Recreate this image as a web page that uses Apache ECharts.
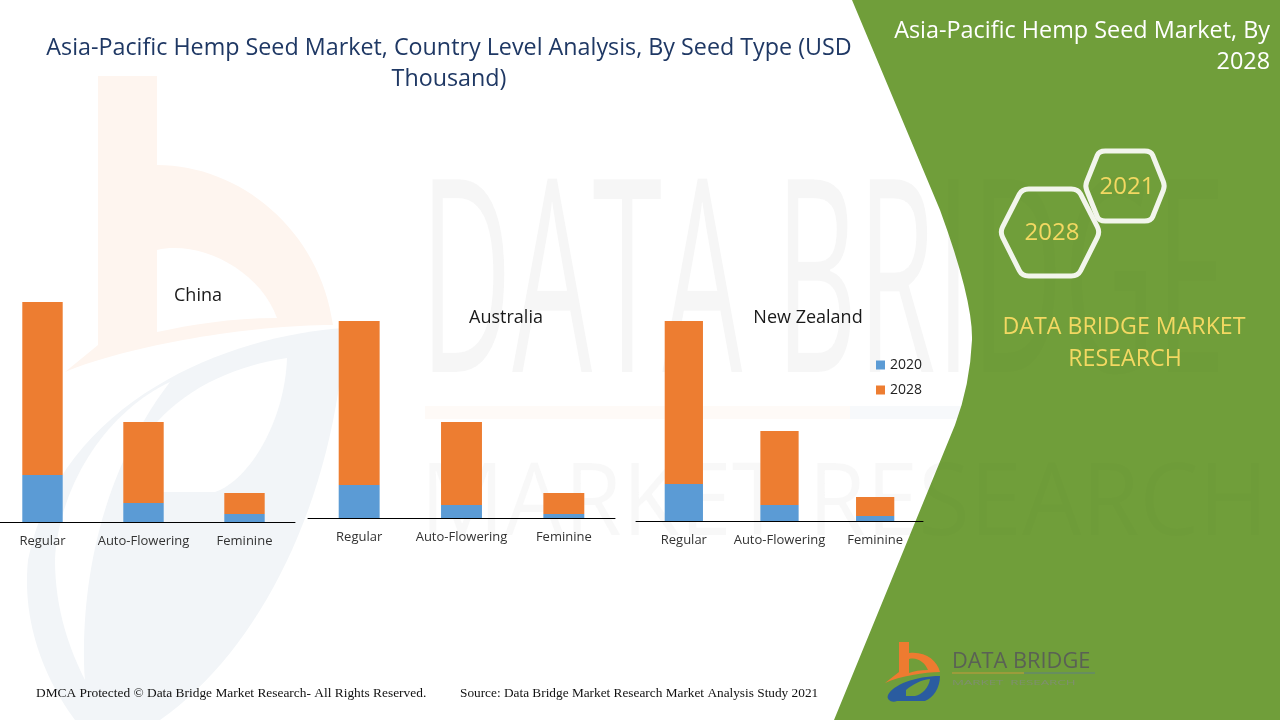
<!DOCTYPE html>
<html lang="en">
<head>
    <meta charset="UTF-8">
    <title>Asia-Pacific Hemp Seed Market</title>
    <style>
        html, body { margin: 0; padding: 0; background: #fff; overflow: hidden; }
        /* canvas starts 8px left of the page: the China axis begins off the edge and grid left can't go negative */
        #chart { position: absolute; left: -8px; top: 0; width: 1288px; height: 720px; }
    </style>
</head>
<body>
<div id="chart"></div>

<script src="https://cdn.jsdelivr.net/npm/echarts@6/dist/echarts.min.js"></script>
<script>
// values estimated off the bars (no value axis in the picture)
var seedTypes = ['Regular', 'Auto-Flowering', 'Feminine'];
var countries = ['China', 'Australia', 'New Zealand'];
var years = ['2020', '2028'];
var china2020 = [47, 19, 8];
var china2028 = [173, 81, 21];
var australia2020 = [33, 13, 4];
var australia2028 = [164, 83, 21];
var newZealand2020 = [37, 16, 5];
var newZealand2028 = [163, 74, 19];

var offX = 8;
var sans = '"Open Sans", "Noto Sans", sans-serif';
var serif = '"Liberation Serif", serif';
var yellow = '#F3D862';
var navy = '#1F3864';
var green = '#709E3A';

// one grid per country: left, width, baseline y
var layout = [
  {left: -8, width: 303, base: 522, titleX: 198, titleY: 287, v: [china2020, china2028]},
  {left: 308, width: 307, base: 518, titleX: 506, titleY: 309, v: [australia2020, australia2028]},
  {left: 636, width: 287, base: 521, titleX: 808, titleY: 309, v: [newZealand2020, newZealand2028]}
];
var plotH = 220;

var grids = [], xAxes = [], yAxes = [], series = [];
var titles = [{
  text: 'Asia-Pacific Hemp Seed Market, Country Level Analysis, By Seed Type (USD\nThousand)',
  left: 449 + offX, top: 33, textAlign: 'center', padding: 0,
  textStyle: {fontFamily: sans, fontSize: 23.3, fontWeight: 'normal', color: navy, lineHeight: 31}
}];

layout.forEach(function (g, i) {
  grids.push({left: g.left + offX, width: g.width, top: g.base - plotH, height: plotH});
  xAxes.push({
    type: 'category', gridIndex: i, data: seedTypes, z: 5,
    axisLine: {lineStyle: {color: '#000', width: 1}},
    axisTick: {show: false},
    axisLabel: {fontFamily: sans, fontSize: 13, color: '#333', margin: 13, interval: 0}
  });
  yAxes.push({type: 'value', gridIndex: i, min: 0, max: plotH, show: false});
  years.forEach(function (y, k) {
    series.push({
      name: y, type: 'bar', stack: countries[i], xAxisIndex: i, yAxisIndex: i,
      barWidth: '40%', data: g.v[k],
      itemStyle: {color: k === 0 ? '#5B9BD5' : '#ED7D31'}
    });
  });
  titles.push({
    text: countries[i], left: g.titleX + offX, top: g.titleY, textAlign: 'center', padding: 0,
    textStyle: {fontFamily: sans, fontSize: 18, fontWeight: 'normal', color: '#1a1a1a'}
  });
});

function txt(x, y, text, size, color, align, family, extra) {
  var el = {
    type: 'text', x: x, y: y, z: 3,
    style: {text: text, fontSize: size, fill: color, align: align || 'left', verticalAlign: 'middle', fontFamily: family || sans}
  };
  for (var k in extra) el[k] = extra[k];
  return el;
}
// graphic has no plain path type, so each outline is registered as its own shape
var shapeCount = 0;
function shape(d, fill, z, stroke) {
  var name = 'decor' + (shapeCount++);
  echarts.graphic.registerShape(name, echarts.graphic.extendPath(d));
  var style = {fill: fill};
  if (stroke) { style.stroke = stroke; style.lineWidth = 5; }
  return {type: name, z: z || 0, style: style};
}
// hexagon outline with rounded corners
function hex(pts) {
  var d = '', r = 0.12;
  pts.forEach(function (p, i) {
    var a = pts[(i + pts.length - 1) % pts.length], b = pts[(i + 1) % pts.length];
    var x1 = p[0] + (a[0] - p[0]) * r, y1 = p[1] + (a[1] - p[1]) * r;
    var x2 = p[0] + (b[0] - p[0]) * r, y2 = p[1] + (b[1] - p[1]) * r;
    d += (i ? 'L' : 'M') + x1 + ' ' + y1 + ' Q' + p[0] + ' ' + p[1] + ' ' + x2 + ' ' + y2 + ' ';
  });
  return shape(d + 'Z', 'none', 3, '#F2F5EC');
}

var graphics = [
  // faint logo behind the charts
  shape('M98 76 L157 76 L157 165 C240 165 320 230 333 325 C250 325 130 345 65 372 L98 345 Z', '#FEF5EF'),
  shape('M157 250 C200 240 260 270 277 318 C230 318 190 325 157 332 Z', '#fff', 1),
  shape('M345 328 C230 335 60 400 28 560 C20 640 60 700 75 720 L160 720 C260 650 335 500 345 328 Z', '#F2F5F8'),
  shape('M157 492 L157 422 C190 385 240 365 287 358 C285 420 250 480 215 492 Z', '#fff', 1),
  shape('M170 382 C110 410 60 480 55 560 C55 610 70 650 85 680 C80 600 95 480 170 382 Z', '#fff', 1),
  // faint wordmark, white side (the green panel hides the rest)
  txt(420, 295, 'DATA BRIDGE', 270, 'rgba(0,0,0,0.028)', 'left', sans, {scaleX: 0.47, z: 0}),
  txt(420, 507, 'MARKET RESEARCH', 100, 'rgba(0,0,0,0.018)', 'left', sans, {scaleX: 0.94, z: 0}),
  {type: 'rect', z: 0, shape: {x: 425, y: 406, width: 425, height: 13}, style: {fill: 'rgba(237,125,49,0.04)'}},
  {type: 'rect', z: 0, shape: {x: 850, y: 406, width: 420, height: 13}, style: {fill: 'rgba(42,92,160,0.04)'}},
  // green panel
  shape('M852 0 L940 210 Q973 300 972 340 Q970 385 955 425 L834 720 L1288 720 L1288 0 Z', green, 1),
  // same wordmark, weaker, where it shows through the green
  txt(420, 295, 'DATA BRIDGE', 270, 'rgba(0,0,0,0.012)', 'left', sans, {scaleX: 0.47, z: 1}),
  txt(420, 507, 'MARKET RESEARCH', 100, 'rgba(0,0,0,0.012)', 'left', sans, {scaleX: 0.94, z: 1}),
  // right panel
  txt(1270, 31, 'Asia-Pacific Hemp Seed Market, By', 23.4, '#fff', 'right'),
  txt(1270, 62, '2028', 23.4, '#fff', 'right'),
  hex([[1099, 151], [1151, 151], [1165, 186], [1151, 221], [1099, 221], [1085, 186]]),
  hex([[1022, 189], [1078, 189], [1100, 232], [1078, 276], [1022, 276], [1000, 232]]),
  txt(1127, 187, '2021', 24, yellow, 'center'),
  txt(1052, 233, '2028', 24, yellow, 'center'),
  txt(1124, 327, 'DATA BRIDGE MARKET', 23.2, yellow, 'center'),
  txt(1125, 359, 'RESEARCH', 23.2, yellow, 'center'),
  // small logo
  shape('M899 642 L909 642 L909 653 C925 651 937 660 940 672 C925 672 900 676 885 683 L899 672 Z', '#EE7B30', 3),
  shape('M909 659 C918 657 925 663 928 670 C920 670 914 671 909 673 Z', green, 4),
  shape('M940 676 C915 676 893 685 888 695 C886 700 892 703 897 701 L925 701 C933 698 940 688 940 676 Z', '#2A5CA0', 3),
  shape('M906 696 L906 690 C913 684 921 680 930 679 C929 687 922 695 915 696 Z', green, 4),
  txt(952, 662, 'DATA BRIDGE', 22, '#5A6155', 'left', sans, {scaleX: 0.99}),
  {type: 'line', z: 3, shape: {x1: 952, y1: 673, x2: 1024, y2: 673}, style: {stroke: '#C69A3C', lineWidth: 1.2}},
  {type: 'line', z: 3, shape: {x1: 1024, y1: 673, x2: 1095, y2: 673}, style: {stroke: '#5F7E82', lineWidth: 1.2}},
  txt(952, 683, 'MARKET  RESEARCH', 7, '#7F8F6F', 'left', sans, {scaleX: 1.9}),
  // footer
  txt(36, 693, 'DMCA Protected © Data Bridge Market Research- All Rights Reserved.', 13.4, '#111', 'left', serif),
  txt(460, 694, 'Source: Data Bridge Market Research Market Analysis Study 2021', 13.3, '#111', 'left', serif)
];

var chart = echarts.init(document.getElementById('chart'));
chart.setOption({
  animation: false,
  title: titles,
  grid: grids,
  xAxis: xAxes,
  yAxis: yAxes,
  legend: {
    data: years, orient: 'vertical', left: 871 + offX, top: 353,
    icon: 'rect', itemWidth: 9, itemHeight: 9, itemGap: 11, selectedMode: false,
    textStyle: {fontFamily: sans, fontSize: 14, color: '#222'}
  },
  graphic: {elements: [{type: 'group', x: offX, children: graphics}]},
  series: series
});
</script>
</body>
</html>
